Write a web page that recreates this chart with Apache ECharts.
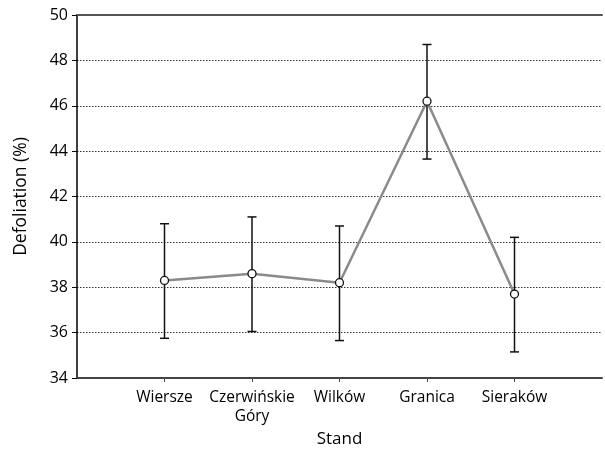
<!DOCTYPE html>
<html><head><meta charset="utf-8">
<script src="https://cdn.jsdelivr.net/npm/echarts@6/dist/echarts.min.js"></script>
<style>html,body{margin:0;padding:0;background:#fff}#c{width:605px;height:453px}</style>
</head><body><div id="c"></div>
<script>
const categories = ['Wiersze', 'Czerwińskie\nGóry', 'Wilków', 'Granica', 'Sieraków'];
const means = [38.3, 38.6, 38.2, 46.2, 37.7];
const upper = [40.8, 41.1, 40.7, 48.7, 40.2];
const lower = [35.75, 36.05, 35.65, 43.65, 35.15];
const yTicks = [34, 36, 38, 40, 42, 44, 46, 48, 50];

const axisCats = [''].concat(categories, ['']);
const meanData = [null].concat(means, [null]);
const errData = categories.map((c, i) => [i + 1, lower[i], upper[i]]);
const font = '"Open Sans", "Noto Sans", sans-serif';

const chart = echarts.init(document.getElementById('c'));
chart.setOption({
  animation: false,
  grid: {left: 77, right: 0, top: 15, bottom: 75},
  xAxis: [{
    type: 'category', data: axisCats, boundaryGap: false,
    name: 'Stand', nameLocation: 'middle', nameGap: 45,
    nameTextStyle: {color: '#000', fontSize: 17, fontFamily: font},
    axisLine: {lineStyle: {color: '#444', width: 2}},
    axisTick: {show: true, length: 4, inside: false, lineStyle: {color: '#444', width: 1},
      interval: (i, v) => v !== ''},
    axisLabel: {interval: 0, color: '#000', fontSize: 15.5, fontFamily: font, lineHeight: 19, margin: 10},
    splitLine: {show: false}
  }, {
    type: 'category', data: axisCats, boundaryGap: false, position: 'top',
    axisLine: {lineStyle: {color: '#555', width: 2}},
    axisTick: {show: false}, axisLabel: {show: false}, splitLine: {show: false}
  }],
  yAxis: {
    type: 'value', min: yTicks[0], max: yTicks[yTicks.length - 1], interval: 2,
    name: 'Defoliation (%)', nameLocation: 'middle', nameGap: 47, nameRotate: 90,
    nameTextStyle: {color: '#000', fontSize: 17.5, fontFamily: font},
    axisLine: {show: true, lineStyle: {color: '#000', width: 1.5}},
    axisTick: {show: true, length: 5, lineStyle: {color: '#000'}},
    axisLabel: {color: '#000', fontSize: 16, fontFamily: font, margin: 9},
    splitLine: {show: true, lineStyle: {color: '#333', type: [1.5, 1.5], width: 1}}
  },
  series: [{
    type: 'custom', z: 3,
    renderItem: function (params, api) {
      const x = api.value(0);
      const lo = api.coord([x, api.value(1)]);
      const hi = api.coord([x, api.value(2)]);
      const w = 4.5;
      const st = {stroke: '#111', lineWidth: 1.5};
      return {type: 'group', children: [
        {type: 'line', shape: {x1: lo[0], y1: lo[1], x2: hi[0], y2: hi[1]}, style: st},
        {type: 'line', shape: {x1: lo[0] - w, y1: lo[1], x2: lo[0] + w, y2: lo[1]}, style: st},
        {type: 'line', shape: {x1: hi[0] - w, y1: hi[1], x2: hi[0] + w, y2: hi[1]}, style: st}
      ]};
    },
    encode: {x: 0, y: [1, 2]},
    data: errData
  }, {
    type: 'line', z: 4, data: meanData, connectNulls: false,
    lineStyle: {color: '#8a8a8a', width: 2.5},
    symbol: 'circle', symbolSize: 8,
    itemStyle: {color: '#fff', borderColor: '#111', borderWidth: 1.3}
  }]
});
</script></body></html>
